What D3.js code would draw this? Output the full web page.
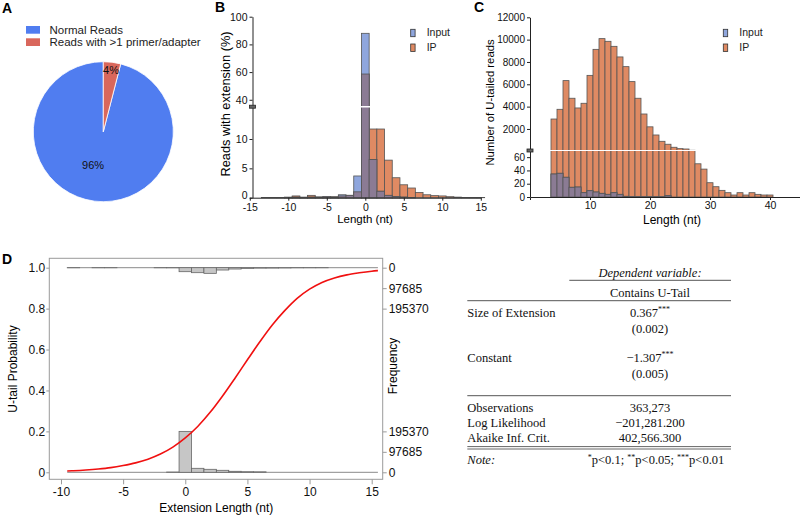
<!DOCTYPE html>
<html><head><meta charset="utf-8">
<script src="https://cdn.jsdelivr.net/npm/d3@7"></script>
<style>body{margin:0;background:#fff}svg{font-family:"Liberation Sans",Arial,sans-serif;display:block}</style>
</head><body>
<svg id="fig" width="800" height="515"></svg>
<script>
// ---------- DATA ----------
// Panel A
const pieLabels = ["Normal Reads", "Reads with >1 primer/adapter"];
const pieValues = [96, 4];
const pieText = ["96%", "4%"];

// Panel B (extension length -15..15, % of reads)
const bLengths = [-15,-14,-13,-12,-11,-10,-9,-8,-7,-6,-5,-4,-3,-2,-1,0,1,2,3,4,5,6,7,8,9,10,11,12,13,14,15];
const bInput = [0,0,0,0,0,0.05,0.1,0.05,0.1,0.1,0.15,0.1,0.5,0.4,3.7,88,6.5,1.1,0.4,0.2,0.1,0.05,0,0,0,0,0,0,0,0,0];
const bIP    = [0,0,0.02,0.03,0.05,0.1,0.3,0.1,0.4,0.1,0.15,0.15,0.3,0.4,1.0,58.6,11.7,11.7,6.4,3.4,2.2,1.65,0.9,0.5,0.35,0.3,0.17,0.1,0.05,0.05,0.03];
const bTicksX = [-15,-10,-5,0,5,10,15];
const bTicksY = [0,5,10,40,60,80,100];

// Panel C (U-tail length 4..40, number of reads)
const cLengths = [4,5,6,7,8,9,10,11,12,13,14,15,16,17,18,19,20,21,22,23,24,25,26,27,28,29,30,31,32,33,34,35,36,37,38,39,40];
const cIP = [2890,3760,6330,4750,3880,4300,6800,9130,10090,9850,9400,8450,7580,6240,4750,3340,2190,1460,894,630,360,235,205,90,50,42,21.5,15.5,10,6.5,3,6.5,3,6.5,4,3,3];
const cInput = [34.6,35.7,29.7,14.6,15,6.5,9.5,7.5,5.5,4,6.5,4,1,0.5,0.5,0.3,0.3,0.3,0.3,2,0,0,0,0,0,0,0,0,0,0,0,0,0,0,0,0,0];
const cTicksX = [10,20,30,40];
const cTicksY = [0,20,40,60,2000,4000,6000,8000,10000,12000];

// Panel D
const dBins = [-9,-8,-7,-6,-5,-4,-3,-2,-1,0,1,2,3,4,5,6,7,8,9,10,11];
const dTailFreq   = [300,0,300,300,0,0,0,400,500,19050,23800,27000,11100,6350,3200,2000,1800,1200,500,400,300];
const dNoTailFreq = [0,0,0,0,0,0,0,0,1200,195370,19050,14300,9560,4800,2800,2300,0,0,0,0,0];
const dCurveX = [-9.5,-9,-8,-7,-6,-5,-4,-3,-2,-1,0,1,2,3,4,5,6,7,8,9,10,11,12,13,14,15,15.5];
const dCurveP = [0.0066,0.0078,0.0112,0.016,0.0227,0.033,0.046,0.064,0.089,0.123,0.168,0.224,0.293,0.373,0.46,0.55,0.638,0.72,0.79,0.85,0.895,0.928,0.95,0.965,0.975,0.983,0.986];
const dTicksX = [-10,-5,0,5,10,15];
const dTicksY = [0,0.2,0.4,0.6,0.8,1.0];
const dFreqTicks = [0,97685,195370];

// Regression table
const tableHeader = ["Dependent variable:", "Contains U-Tail"];
const tableCoefNames = ["Size of Extension", "Constant"];
const tableCoefs = ["0.367", "\u22121.307"];
const tableCoefStars = ["***", "***"];
const tableSEs = ["(0.002)", "(0.005)"];
const tableStatNames = ["Observations", "Log Likelihood", "Akaike Inf. Crit."];
const tableStatValues = ["363,273", "\u2212201,281.200", "402,566.300"];

// ---------- DRAW ----------
const svg = d3.select("#fig");
const SANS = "'Liberation Sans', Arial, sans-serif";
const SERIF = "'Liberation Serif', 'Times New Roman', serif";
const BLUE_BAR = "#8fa6dd", ORANGE_BAR = "#df8a63", OVER_BAR = "#8b7b94", BAR_STROKE = "#555";

function panelLabel(t, x, y) {
  svg.append("text").attr("x", x).attr("y", y).text(t)
    .attr("font-weight", "bold").attr("font-size", 14).attr("font-family", SANS);
}
panelLabel("A", 2, 13); panelLabel("B", 215, 12); panelLabel("C", 474, 12); panelLabel("D", 2, 264);

function styleAxis(g, fs) {
  g.attr("font-family", SANS).attr("font-size", fs);
  g.selectAll("path,line").attr("stroke", "#222");
  g.selectAll("text").attr("fill", "#111");
}

// ----- Panel A -----
const pieColors = ["#507df0", "#d9675c"];
const pieTotal = d3.sum(pieValues);
const pie = d3.pie().sort(null).value(d => d)
  .startAngle(-2 * Math.PI * pieValues[0] / pieTotal)
  .endAngle(2 * Math.PI * pieValues[1] / pieTotal);
const arcs = pie(pieValues);
const gA = svg.append("g").attr("transform", "translate(103.3,131.7)");
const arc = d3.arc().innerRadius(0).outerRadius(70);
gA.selectAll("path").data(arcs).join("path").attr("d", arc)
  .attr("fill", (d, i) => pieColors[i]).attr("stroke", "#fff").attr("stroke-width", 0.8);
const labelRadius = [34, 62];
gA.selectAll("text").data(arcs).join("text")
  .attr("transform", (d, i) => {
    const c = d3.arc().innerRadius(labelRadius[i]).outerRadius(labelRadius[i]).centroid(d);
    return `translate(${c[0] - (i === 0 ? 6 : 0)},${c[1]})`;
  })
  .attr("dy", "0.35em").attr("text-anchor", "middle")
  .attr("font-size", 11).attr("font-family", SANS).attr("fill", "#111")
  .text((d, i) => pieText[i]);
const legA = svg.append("g");
pieLabels.forEach((l, i) => {
  legA.append("rect").attr("x", 26).attr("y", 26 + i * 12.3).attr("width", 14).attr("height", 7.7).attr("fill", pieColors[i]);
  legA.append("text").attr("x", 49.5).attr("y", 33.8 + i * 12.3).text(l)
    .attr("font-size", 11.5).attr("font-family", SANS).attr("fill", "#222");
});

// ----- overlapping bar helper -----
function overlapBars(g, cats, inputV, ipV, x, y, halfW) {
  const rows = cats.map((c, i) => ({ c, a: inputV[i], b: ipV[i] }));
  const y0 = y(0);
  const w = x(cats[0] + halfW) - x(cats[0] - halfW);
  const mk = (cls, fill, val) => g.selectAll("rect." + cls).data(rows.filter(r => val(r) > 0)).join("rect")
    .attr("class", cls)
    .attr("x", r => x(r.c - halfW)).attr("width", w)
    .attr("y", r => y(val(r))).attr("height", r => y0 - y(val(r)))
    .attr("fill", fill).attr("stroke", BAR_STROKE).attr("stroke-width", 0.8);
  mk("ip", ORANGE_BAR, r => r.b);
  mk("inp", BLUE_BAR, r => r.a);
  mk("ov", OVER_BAR, r => Math.min(r.a, r.b));
}
function legendBI(x, y) {
  [["Input", BLUE_BAR], ["IP", ORANGE_BAR]].forEach((d, i) => {
    svg.append("rect").attr("x", x).attr("y", y + i * 14.7).attr("width", 4.4).attr("height", 7.4)
      .attr("fill", d[1]).attr("stroke", "#333").attr("stroke-width", 0.8);
    svg.append("text").attr("x", x + 16).attr("y", y + 7 + i * 14.7).text(d[0])
      .attr("font-size", 10.5).attr("font-family", SANS).attr("fill", "#222");
  });
}
function breakMark(x, y) {
  svg.append("rect").attr("x", x - 3).attr("y", y - 1.5).attr("width", 6).attr("height", 3)
    .attr("fill", "#666").attr("stroke", "#222").attr("stroke-width", 0.8);
}

// ----- Panel B -----
const bx = d3.scaleLinear().domain([-15, 15]).range([249.8, 480.8]);
const by = d3.scaleLinear().domain([0, 15.5, 35, 100]).range([197.7, 106.7, 106.7, 16.7]);
const gB = svg.append("g");
overlapBars(gB, bLengths, bInput, bIP, bx, by, 0.5);
gB.append("line").attr("x1", bx(-15)).attr("x2", bx(15)).attr("y1", by(15.5)).attr("y2", by(15.5))
  .attr("stroke", "#fff").attr("stroke-width", 1.4);
const bxa = svg.append("g").attr("transform", "translate(0,197.7)")
  .call(d3.axisBottom(bx).tickValues(bTicksX).tickSize(3).tickPadding(3).tickSizeOuter(0).tickFormat(d => String(d)));
styleAxis(bxa, 10.5);
const bya = svg.append("g").attr("transform", "translate(252.5,0)")
  .call(d3.axisLeft(by).tickValues(bTicksY).tickSize(3).tickPadding(2).tickSizeOuter(0).tickFormat(d => String(d)));
styleAxis(bya, 10.5);
bya.selectAll(".tick text").filter(d => d === 0).attr("dy", "0.1em");
breakMark(252.5, 106.7);
svg.append("text").attr("transform", "translate(229.5,104) rotate(-90)").attr("text-anchor", "middle")
  .attr("font-size", 12.8).attr("font-family", SANS).text("Reads with extension (%)");
svg.append("text").attr("x", 365).attr("y", 222.5).attr("text-anchor", "middle")
  .attr("font-size", 11.5).attr("font-family", SANS).text("Length (nt)");
legendBI(410.7, 29.3);

// ----- Panel C -----
const cx = d3.scaleLinear().domain([0, 45]).range([530, 800]);
const cy = d3.scaleLinear().domain([0, 70, 12000]).range([197, 150.5, 17.3]);
const gC = svg.append("g");
overlapBars(gC, cLengths, cInput, cIP, cx, cy, 0.5);
gC.append("line").attr("x1", cx(0)).attr("x2", cx(45)).attr("y1", cy(70)).attr("y2", cy(70))
  .attr("stroke", "#fff").attr("stroke-width", 1.2);
const cxa = svg.append("g").attr("transform", "translate(0,197)")
  .call(d3.axisBottom(cx).tickValues(cTicksX).tickSize(3).tickPadding(2).tickSizeOuter(3));
styleAxis(cxa, 10.5);
const cya = svg.append("g").attr("transform", "translate(530,0)")
  .call(d3.axisLeft(cy).tickValues(cTicksY).tickSize(3).tickPadding(2).tickSizeOuter(0).tickFormat(d => String(d)));
styleAxis(cya, 10);
breakMark(530, 150.5);
svg.append("text").attr("transform", "translate(494,102.5) rotate(-90)").attr("text-anchor", "middle")
  .attr("font-size", 11.3).attr("font-family", SANS).text("Number of U-tailed reads");
svg.append("text").attr("x", 672).attr("y", 224).attr("text-anchor", "middle")
  .attr("font-size", 12).attr("font-family", SANS).text("Length (nt)");
legendBI(723.3, 29.3);

// ----- Panel D -----
const dx = d3.scaleLinear().domain([-10, 15]).range([61, 371.7]);
const dy = d3.scaleLinear().domain([0, 1]).range([472.3, 267.7]);
const fH = d3.scaleLinear().domain([0, 195370]).range([0, dy(0) - dy(0.2)]);
const gD = svg.append("g");
gD.append("rect").attr("x", 49.3).attr("y", 258.3).attr("width", 333.4).attr("height", 221)
  .attr("fill", "none").attr("stroke", "#9a9a9a").attr("stroke-width", 1);
[0, 1].forEach(v => gD.append("line").attr("x1", dx(-9.5)).attr("x2", dx(15.5)).attr("y1", dy(v)).attr("y2", dy(v))
  .attr("stroke", "#8a8a8a").attr("stroke-width", 1));
const binW = dx(0.5) - dx(-0.5);
gD.selectAll("rect.top").data(dBins.map((c, i) => ({ c, f: dTailFreq[i] })).filter(d => d.f > 0)).join("rect")
  .attr("class", "top").attr("x", d => dx(d.c - 0.5)).attr("width", binW)
  .attr("y", dy(1)).attr("height", d => fH(d.f))
  .attr("fill", "#c6c6c6").attr("stroke", "#666").attr("stroke-width", 0.8);
gD.selectAll("rect.bot").data(dBins.map((c, i) => ({ c, f: dNoTailFreq[i] })).filter(d => d.f > 0)).join("rect")
  .attr("class", "bot").attr("x", d => dx(d.c - 0.5)).attr("width", binW)
  .attr("y", d => dy(0) - fH(d.f)).attr("height", d => fH(d.f))
  .attr("fill", "#c6c6c6").attr("stroke", "#666").attr("stroke-width", 0.8);
gD.append("path").datum(dCurveX.map((x, i) => [x, dCurveP[i]]))
  .attr("d", d3.line().x(d => dx(d[0])).y(d => dy(d[1])).curve(d3.curveMonotoneX))
  .attr("fill", "none").attr("stroke", "#f01010").attr("stroke-width", 1.6);
function styleD(g) {
  g.attr("font-family", SANS).attr("font-size", 12);
  g.select(".domain").remove();
  g.selectAll("line").attr("stroke", "#9a9a9a");
  g.selectAll("text").attr("fill", "#111");
}
const dxa = svg.append("g").attr("transform", "translate(0,479.3)")
  .call(d3.axisBottom(dx).tickValues(dTicksX).tickSize(5).tickPadding(3).tickFormat(d => String(d)));
styleD(dxa);
const dya = svg.append("g").attr("transform", "translate(49.3,0)")
  .call(d3.axisLeft(dy).tickValues(dTicksY).tickSize(3).tickPadding(1).tickFormat(d => d === 0 ? "0" : d.toFixed(1)));
styleD(dya);
const fTop = d3.scaleLinear().domain([0, 195370]).range([dy(1), dy(1) + fH(195370)]);
const fBot = d3.scaleLinear().domain([0, 195370]).range([dy(0), dy(0) - fH(195370)]);
[fTop, fBot].forEach(s => {
  const g = svg.append("g").attr("transform", "translate(382.7,0)")
    .call(d3.axisRight(s).tickValues(dFreqTicks).tickSize(4).tickPadding(2).tickFormat(d => String(d)));
  styleD(g);
});
svg.append("text").attr("transform", "translate(17,369) rotate(-90)").attr("text-anchor", "middle")
  .attr("font-size", 12).attr("font-family", SANS).text("U-tail Probability");
svg.append("text").attr("transform", "translate(397,366) rotate(-90)").attr("text-anchor", "middle")
  .attr("font-size", 12).attr("font-family", SANS).text("Frequency");
svg.append("text").attr("x", dx(2.5)).attr("y", 512).attr("text-anchor", "middle")
  .attr("font-size", 12).attr("font-family", SANS).text("Extension Length (nt)");

// ----- Regression table -----
const T = svg.append("g").attr("font-family", SERIF).attr("font-size", 12.5).attr("fill", "#111");
const L = 467.3, C = 650, R = 731;
function tline(x1, x2, y, w) { T.append("line").attr("x1", x1).attr("x2", x2).attr("y1", y).attr("y2", y).attr("stroke", "#555").attr("stroke-width", w || 1); }
function ttext(t, x, y, anchor, italic) {
  return T.append("text").attr("x", x).attr("y", y).attr("text-anchor", anchor || "start")
    .attr("font-style", italic ? "italic" : null).text(t);
}
ttext(tableHeader[0], C, 276.5, "middle", true);
tline(569.3, R, 280.3);
ttext(tableHeader[1], C, 296.5, "middle");
tline(L, R, 300.7);
const coefY = [316.5, 361.5];
tableCoefNames.forEach((n, i) => {
  ttext(n, L, coefY[i]);
  const t = ttext(tableCoefs[i], C, coefY[i], "middle");
  t.append("tspan").attr("font-size", 8).attr("dy", -4.5).text(tableCoefStars[i]);
  ttext(tableSEs[i], C, coefY[i] + 16, "middle");
});
tline(L, R, 395.7);
const statY = [412, 426.5, 441.5];
tableStatNames.forEach((n, i) => {
  ttext(n, L, statY[i]);
  ttext(tableStatValues[i], C, statY[i], "middle");
});
tline(L, R, 446.6, 0.9);
tline(L, R, 449, 0.9);
ttext("Note:", L, 464, "start", true);
const note = T.append("text").attr("x", 724.3).attr("y", 464).attr("text-anchor", "end");
[["*", "p<0.1; "], ["**", "p<0.05; "], ["***", "p<0.01"]].forEach(p => {
  note.append("tspan").attr("font-size", 8).attr("baseline-shift", "super").text(p[0]);
  note.append("tspan").text(p[1]);
});
</script>
</body></html>
